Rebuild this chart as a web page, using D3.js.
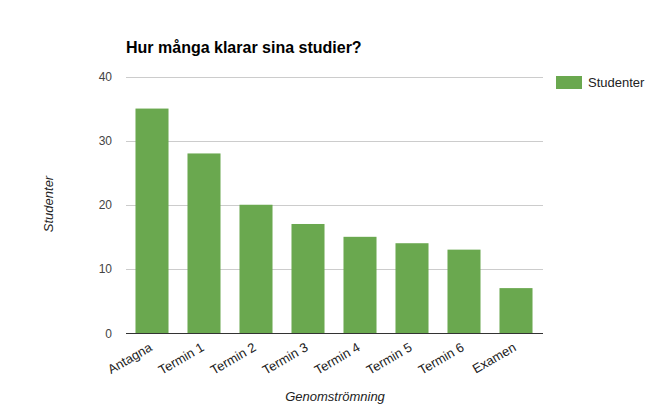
<!DOCTYPE html>
<html>
<head>
<meta charset="utf-8">
<script src="https://cdn.jsdelivr.net/npm/d3@7"></script>
<style>
  body { margin: 0; background: #fff; }
  text { font-family: "Liberation Sans", Arial, sans-serif; }
</style>
</head>
<body>
<div id="main-frame"></div>
<script>
const categories = ["Antagna", "Termin 1", "Termin 2", "Termin 3", "Termin 4", "Termin 5", "Termin 6", "Examen"];
const studenter = [35, 28, 20, 17, 15, 14, 13, 7];
const yTicks = [0, 10, 20, 30, 40];

const width = 667, height = 411;
const plot = { left: 126, right: 542, top: 76.5, bottom: 333 };

const svg = d3.select("#main-frame")
  .append("svg")
  .attr("width", width)
  .attr("height", height);

const x = d3.scaleBand()
  .domain(categories)
  .range([plot.left, plot.right])
  .paddingInner(0.365)
  .paddingOuter(0.1825);

const y = d3.scaleLinear()
  .domain([0, 40])
  .range([plot.bottom, plot.top]);

// gridlines
svg.append("g")
  .selectAll("line")
  .data(yTicks)
  .enter()
  .append("line")
  .attr("x1", plot.left)
  .attr("x2", plot.right + 1)
  .attr("y1", (d) => Math.round(y(d)) + 0.5)
  .attr("y2", (d) => Math.round(y(d)) + 0.5)
  .attr("stroke", "#cccccc");

// y tick labels
svg.append("g")
  .selectAll("text")
  .data(yTicks)
  .enter()
  .append("text")
  .attr("x", 112)
  .attr("y", (d) => y(d) + 4.5)
  .attr("text-anchor", "end")
  .attr("font-size", "12px")
  .attr("fill", "#444")
  .text((d) => d);

// bars
svg.append("g")
  .selectAll("rect")
  .data(categories)
  .enter()
  .append("rect")
  .attr("x", (d) => x(d))
  .attr("y", (d, i) => y(studenter[i]))
  .attr("width", x.bandwidth())
  .attr("height", (d, i) => y(0) - y(studenter[i]))
  .attr("fill", "#6aa84f");

// baseline
svg.append("line")
  .attr("x1", plot.left)
  .attr("x2", plot.right + 1)
  .attr("y1", Math.round(y(0)) + 0.5)
  .attr("y2", Math.round(y(0)) + 0.5)
  .attr("stroke", "#333");

// x labels, rotated
svg.append("g")
  .selectAll("text")
  .data(categories)
  .enter()
  .append("text")
  .attr("transform", (d) => `translate(${x(d) + x.bandwidth() / 2 + 1}, 350) rotate(-30)`)
  .attr("text-anchor", "end")
  .attr("font-size", "13px")
  .attr("fill", "#222")
  .text((d) => d);

// title
svg.append("text")
  .attr("x", 126)
  .attr("y", 53)
  .attr("font-size", "16px")
  .attr("font-weight", "bold")
  .attr("fill", "#000")
  .text("Hur många klarar sina studier?");

// axis titles
svg.append("text")
  .attr("x", 335)
  .attr("y", 401)
  .attr("text-anchor", "middle")
  .attr("font-size", "13px")
  .attr("font-style", "italic")
  .attr("fill", "#222")
  .text("Genomströmning");

svg.append("text")
  .attr("transform", "translate(53, 204) rotate(-90)")
  .attr("text-anchor", "middle")
  .attr("font-size", "13px")
  .attr("font-style", "italic")
  .attr("fill", "#222")
  .text("Studenter");

// legend
const legend = svg.append("g").attr("transform", "translate(556, 76)");
legend.append("rect")
  .attr("width", 26)
  .attr("height", 13)
  .attr("fill", "#6aa84f");
legend.append("text")
  .attr("x", 32)
  .attr("y", 11)
  .attr("font-size", "13px")
  .attr("fill", "#222")
  .text("Studenter");
</script>
</body>
</html>
